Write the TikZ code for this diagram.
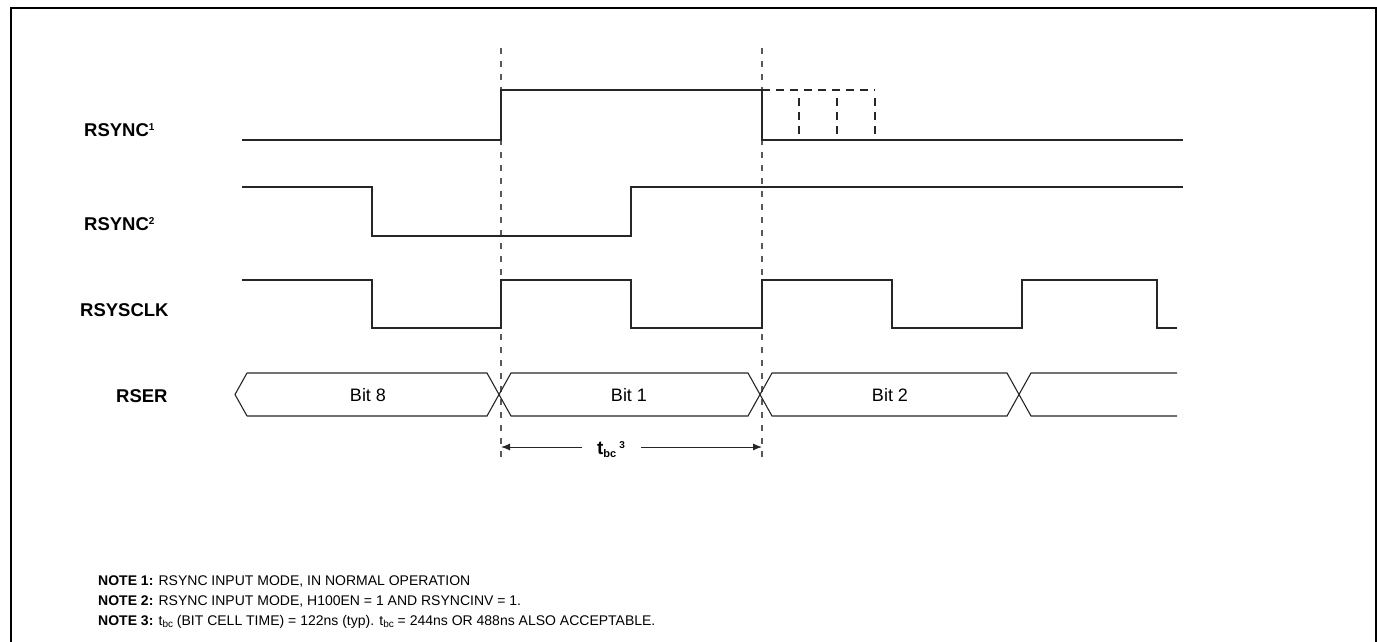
\documentclass[tikz,border=0pt]{standalone}
\usepackage{fontspec}
\setmainfont{Liberation Sans}
\usetikzlibrary{arrows.meta}
\newcommand{\supx}[1]{\raisebox{5.5pt}{\fontsize{10}{10}\selectfont #1}}
\newcommand{\subx}[1]{\raisebox{-3.5pt}{\fontsize{11}{11}\selectfont #1}}
\begin{document}
\begin{tikzpicture}[x=1pt,y=-1pt,
  sig/.style={line width=1.1pt, black!85},
  dsig/.style={line width=1.1pt, black!85, dash pattern=on 8pt off 6pt},
  guide/.style={line width=1.1pt, gray!70!black, dash pattern=on 6pt off 7pt},
  lbl/.style={font=\fontsize{18.5}{21}\selectfont\bfseries, anchor=west, inner sep=0},
  bit/.style={font=\fontsize{18}{20}\selectfont, inner sep=0},
  note/.style={font=\fontsize{14}{17}\selectfont, anchor=base west, inner sep=0},
  dim/.style={line width=1pt, black!85, -{Latex[length=9pt,width=7pt]}}]
\useasboundingbox (0,0) rectangle (1377,641);
\draw[line width=2pt] (11,645) -- (11,8) -- (1376,8) -- (1376,645);

% guide lines
\coordinate (g1t) at (501,48); \coordinate (g1b) at (501,462);
\coordinate (g2t) at (762,48); \coordinate (g2b) at (762,462);
\draw[guide] (g1t) -- (g1b);
\draw[guide] (g2t) -- (g2b);

% labels
\node[lbl] (l1) at (84,130) {RSYNC\supx{1}};
\node[lbl] (l2) at (84,224) {RSYNC\supx{2}};
\node[lbl] (l3) at (80,310) {RSYSCLK};
\node[lbl] (l4) at (116,396) {RSER};

% RSYNC1
\draw[sig] (242,140) -- (501,140) -- (501,90) -- (762,90) -- (762,140) -- (1183,140);
\draw[dsig] (762,90) -- (875,90);
\foreach \x in {799,837,875} \draw[dsig] (\x,98) -- (\x,140);

% RSYNC2
\draw[sig] (242,187) -- (372,187) -- (372,236) -- (631,236) -- (631,187) -- (1183,187);

% RSYSCLK
\draw[sig] (242,280) -- (372,280) -- (372,328) -- (501,328) -- (501,280) -- (631,280)
  -- (631,328) -- (762,328) -- (762,280) -- (892,280) -- (892,328) -- (1022,328)
  -- (1022,280) -- (1157,280) -- (1157,328) -- (1177,328);

% RSER
\draw[sig] (247,373) -- (235,394.5) -- (247,416);
\draw[sig] (247,373) -- (487,373) -- (511,416) -- (748,416) -- (772,373) -- (1007,373) -- (1031,416) -- (1177,416);
\draw[sig] (247,416) -- (487,416) -- (511,373) -- (748,373) -- (772,416) -- (1007,416) -- (1031,373) -- (1177,373);
\node[bit] (b8) at (368,395) {Bit 8};
\node[bit] (b1) at (629,395) {Bit 1};
\node[bit] (b2) at (890,395) {Bit 2};

% t_bc
\node[font=\fontsize{19}{20}\selectfont\bfseries, inner sep=0] (tbc) at (611,450) {t\subx{bc}\,\supx{3}};
\coordinate (a1) at (501,447);
\coordinate (a2) at (762,447);
\draw[dim] (582,447) -- (a1);
\draw[dim] (641,447) -- (a2);

% notes
\node[note] (n1) at (98,585) {\textbf{NOTE 1:} RSYNC INPUT MODE, IN NORMAL OPERATION};
\node[note] (n2) at (98,605) {\textbf{NOTE 2:} RSYNC INPUT MODE, H100EN = 1 AND RSYNCINV = 1.};
\node[note] (n3) at (98,625) {\textbf{NOTE 3:} t{\fontsize{10}{10}\selectfont\raisebox{-2pt}{bc}} (BIT CELL TIME) = 122ns (typ). t{\fontsize{10}{10}\selectfont\raisebox{-2pt}{bc}} = 244ns OR 488ns ALSO ACCEPTABLE.};
\end{tikzpicture}
\end{document}
